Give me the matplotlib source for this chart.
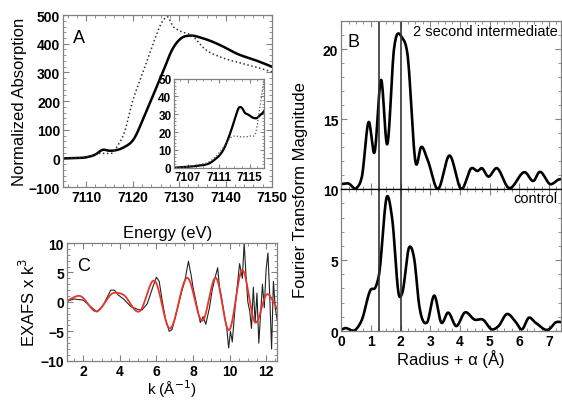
import numpy as np
import matplotlib
matplotlib.use("Agg")
from matplotlib import pyplot as plt
from matplotlib.ticker import MultipleLocator

plt.rcParams['font.family'] = ['Liberation Sans', 'DejaVu Sans']

# panel A, edge spectra
e_solid = [7105, 7107, 7110, 7112, 7113.5, 7115, 7116.5, 7118, 7120.3, 7122.3, 7124.4,
           7126.5, 7128.6, 7130.7, 7132, 7135.5, 7139, 7142.5, 7146.7, 7150]
a_solid = [0, 1, 4, 14, 30, 27, 29, 38, 69, 139, 220, 301, 382, 422, 428, 417, 394,
           365, 341, 320]
e_dot = [7105, 7107, 7110, 7111.7, 7112.5, 7114, 7115.2, 7115.8, 7116.3, 7117, 7118.2,
         7120, 7121.7, 7123, 7124.8, 7126.5, 7127.6, 7128.6, 7130, 7132.8, 7135.5,
         7139, 7142.5, 7146.7, 7150]
a_dot = [0, 1, 5, 12, 16.8, 17.4, 18, 19.6, 32.6, 50, 90, 200, 278, 335, 417, 480, 493,
         463, 446, 428, 382, 353, 336, 318, 302]

# inset, pre-edge
ie_solid = [7105, 7106, 7107.9, 7110.2, 7111.7, 7112.5, 7113.2, 7113.6, 7114, 7114.4,
            7114.8, 7115.5, 7116, 7116.3, 7117, 7117.8]
ia_solid = [0, 0.3, 1, 3.7, 11, 19.6, 29, 33.6, 33.6, 30.8, 29.9, 28, 28, 29.3, 32.6, 44.8]
ie_dot = [7105, 7106, 7108, 7110.2, 7111.7, 7112.5, 7114, 7115.2, 7115.8, 7116.3, 7116.9,
          7117.3]
ia_dot = [0, 0.3, 1.5, 4.7, 12, 16.8, 17.4, 18, 19.6, 32.6, 50, 60]

# panel B, Fourier transforms
r_int = [0, 0.25, 0.53, 0.7, 0.93, 1.12, 1.35, 1.55, 1.78, 2.06, 2.23, 2.52, 2.69, 2.91,
         3.25, 3.65, 4.05, 4.39, 4.6, 4.73, 4.95, 5.24, 5.63, 6.2, 6.49, 6.66, 7.05, 7.34, 7.5]
ft_int = [10.36, 10.4, 10.1, 10.9, 14.8, 12.6, 17.8, 13.2, 20.0, 20.8, 19.7, 11.8, 13.0,
          12.1, 10.0, 12.4, 10.0, 11.5, 11.3, 11.5, 10.9, 11.5, 10.1, 11.2, 10.6, 11.2,
          10.35, 10.7, 10.7]
r_ctl = [0, 0.12, 0.5, 0.7, 0.99, 1.16, 1.27, 1.55, 1.72, 1.95, 2.06, 2.29, 2.46, 2.63,
         2.89, 3.14, 3.37, 3.6, 3.88, 4.16, 4.5, 4.78, 5.07, 5.3, 5.58, 5.86, 6.09, 6.32,
         6.54, 7.0, 7.22, 7.5]
ft_ctl = [0.1, 0.2, 0.12, 0.8, 2.9, 3.1, 3.9, 9.5, 7.9, 2.5, 2.7, 5.9, 5.1, 1.8, 0.6, 2.5,
          0.6, 1.3, 0.35, 1.3, 0.8, 0.8, 0.12, 0.35, 1.2, 0.7, 0.12, 0.94, 0.6, 0.12, 0.6, 0.6]
r_marks = [1.28, 2.02]

# panel C, EXAFS data and fit
k_dat = [1.1, 1.5, 2.0, 2.4, 2.75, 3.1, 3.5, 3.7, 3.9, 4.2, 4.6, 5.0, 5.2, 5.5, 5.8, 6.0,
         6.15, 6.3, 6.5, 6.7, 6.85, 7.0, 7.2, 7.4, 7.55, 7.75, 7.9, 8.0, 8.2, 8.4, 8.55, 8.7,
         8.9, 9.05, 9.2, 9.35, 9.45, 9.55, 9.7, 9.85, 9.95, 10.05, 10.15, 10.3, 10.45, 10.55,
         10.7, 10.8, 10.9, 11.0, 11.1, 11.2, 11.3, 11.4, 11.5, 11.6, 11.7, 11.8, 11.9, 12.0,
         12.1, 12.2, 12.3, 12.4, 12.5, 12.6]
x_dat = [0.1, 0.5, 0.3, -0.8, -1.7, -0.5, 2.0, 2.0, 1.2, 0.5, -0.8, -1.3, -1.4, -0.3, 2.5,
         4.2, 3.5, 0.5, -3.0, -5.0, -4.7, -3.0, -0.5, 2.0, 3.5, 6.9, 4.5, 2.5, -0.5, -3.5,
         -2.5, -3.8, -1.0, 2.0, 4.0, 5.8, 2.5, 1.0, -2.0, -4.5, -7.8, -5.0, -6.8, -1.0, 3.5,
         6.5, 4.0, 10.0, 4.5, 0.0, -1.5, -4.5, 2.5, -3.5, 1.5, -7.0, -2.0, 3.0, -1.0, 5.5,
         8.3, 1.0, -8.0, 3.5, -1.0, -3.0]
k_fit = [1.1, 1.82, 2.72, 3.63, 4.17, 5.08, 5.9, 6.71, 7.7, 8.52, 9.25, 9.97, 10.7, 11.4,
         12.05, 12.6]
x_fit = [0.2, 1.0, -1.6, 1.5, 1.25, -1.6, 3.6, -4.5, 4.1, -3.2, 4.1, -4.8, 5.4, -3.5, 1.3, -1.2]

FRAME = '#808080'


def smooth(x, y, n=16):
    # cubic hermite through the read points
    x = np.asarray(x, float)
    y = np.asarray(y, float)
    m = np.gradient(y, x)
    xs, ys = [], []
    for i in range(len(x) - 1):
        h = x[i + 1] - x[i]
        t = np.linspace(0, 1, n, endpoint=False)
        h00 = 2 * t**3 - 3 * t**2 + 1
        h10 = t**3 - 2 * t**2 + t
        h01 = -2 * t**3 + 3 * t**2
        h11 = t**3 - t**2
        xs.append(x[i] + h * t)
        ys.append(h00 * y[i] + h10 * h * m[i] + h01 * y[i + 1] + h11 * h * m[i + 1])
    xs.append([x[-1]])
    ys.append([y[-1]])
    return np.concatenate(xs), np.concatenate(ys)


def style(ax, lab=10):
    for s in ax.spines.values():
        s.set_color(FRAME)
        s.set_linewidth(0.9)
    ax.tick_params(which='both', direction='in', top=True, right=True, color=FRAME,
                   labelsize=lab, pad=2)
    ax.tick_params(which='major', length=4)
    ax.tick_params(which='minor', length=2)
    for t in ax.get_xticklabels() + ax.get_yticklabels():
        t.set_fontweight('bold')


fig = plt.figure(figsize=(5.62, 4.02), dpi=100)

# A
axA = fig.add_axes([0.112, 0.532, 0.372, 0.428])
xs, ys = smooth(e_solid, a_solid)
axA.plot(xs, ys, color='black', lw=1.8)
xs, ys = smooth(e_dot, a_dot)
axA.plot(xs, ys, color='#333333', lw=1.1, ls=':')
axA.set_xlim(7105, 7150)
axA.set_ylim(-100, 500)
axA.xaxis.set_major_locator(MultipleLocator(10))
axA.xaxis.set_minor_locator(MultipleLocator(2))
axA.yaxis.set_major_locator(MultipleLocator(100))
axA.yaxis.set_minor_locator(MultipleLocator(20))
style(axA)
axA.set_xlabel('Energy (eV)', fontsize=12, labelpad=15)
axA.set_ylabel('Normalized Absorption', fontsize=12, labelpad=1)
axA.text(0.05, 0.92, 'A', transform=axA.transAxes, fontsize=13, va='top')

# inset
axI = fig.add_axes([0.310, 0.580, 0.160, 0.222])
xs, ys = smooth(ie_solid, ia_solid)
axI.plot(xs, ys, color='black', lw=1.6)
xs, ys = smooth(ie_dot, ia_dot)
axI.plot(xs, ys, color='#555555', lw=0.9, ls=':')
axI.set_xlim(7105.2, 7116.9)
axI.set_ylim(0, 50)
axI.set_xticks([7107, 7111, 7115])
axI.xaxis.set_minor_locator(MultipleLocator(1))
axI.yaxis.set_major_locator(MultipleLocator(10))
axI.yaxis.set_minor_locator(MultipleLocator(2))
style(axI, lab=8.5)
axI.tick_params(which='major', length=3)
axI.tick_params(which='minor', length=1.5)

# C
axC = fig.add_axes([0.119, 0.10, 0.374, 0.293])
axC.plot(k_dat, x_dat, color='#222222', lw=0.8)
xs, ys = smooth(k_fit, x_fit)
axC.plot(xs, ys, color='#e8352b', lw=1.3)
axC.set_xlim(1.1, 12.6)
axC.set_ylim(-10, 10)
axC.xaxis.set_major_locator(MultipleLocator(2))
axC.xaxis.set_minor_locator(MultipleLocator(0.5))
axC.yaxis.set_major_locator(MultipleLocator(5))
axC.yaxis.set_minor_locator(MultipleLocator(1))
style(axC)
axC.set_xlabel('k (Å$^{-1}$)', fontsize=11, labelpad=0)
axC.set_ylabel('EXAFS x k$^3$', fontsize=12, labelpad=2)
axC.text(0.05, 0.88, 'C', transform=axC.transAxes, fontsize=13, va='top')

# B top
axB1 = fig.add_axes([0.607, 0.527, 0.391, 0.418])
xs, ys = smooth(r_int, ft_int)
axB1.plot(xs, ys, color='black', lw=1.9)
axB1.set_xlim(0, 7.4)
axB1.set_ylim(10, 22)
axB1.yaxis.set_major_locator(MultipleLocator(5))
axB1.yaxis.set_minor_locator(MultipleLocator(1))
axB1.xaxis.set_major_locator(MultipleLocator(1))
axB1.xaxis.set_minor_locator(MultipleLocator(0.25))
style(axB1)
axB1.set_yticks([10, 15, 20])
axB1.tick_params(labelbottom=False)
axB1.text(0.03, 0.93, 'B', transform=axB1.transAxes, fontsize=13, va='top')
axB1.text(0.985, 0.985, '2 second intermediate', transform=axB1.transAxes, fontsize=10.5,
          ha='right', va='top')

# B bottom
axB2 = fig.add_axes([0.607, 0.174, 0.391, 0.353])
xs, ys = smooth(r_ctl, ft_ctl)
axB2.plot(xs, ys, color='black', lw=1.9)
axB2.set_xlim(0, 7.4)
axB2.set_ylim(0, 10)
axB2.yaxis.set_major_locator(MultipleLocator(5))
axB2.yaxis.set_minor_locator(MultipleLocator(1))
axB2.xaxis.set_major_locator(MultipleLocator(1))
axB2.xaxis.set_minor_locator(MultipleLocator(0.25))
style(axB2)
axB2.set_yticks([0, 5])
axB2.set_xlabel('Radius + α (Å)', fontsize=12, labelpad=1)
axB2.text(0.985, 0.985, 'control', transform=axB2.transAxes, fontsize=10.5,
          ha='right', va='top')
axB2.spines['top'].set_color('black')
axB1.spines['bottom'].set_color('black')

for ax in (axB1, axB2):
    for r in r_marks:
        ax.axvline(r, color='#333333', lw=1.2)

fig.text(0.535, 0.527, 'Fourier Transform Magnitude', rotation=90, fontsize=12,
         ha='center', va='center')

fig.savefig('out.png', dpi=100)
